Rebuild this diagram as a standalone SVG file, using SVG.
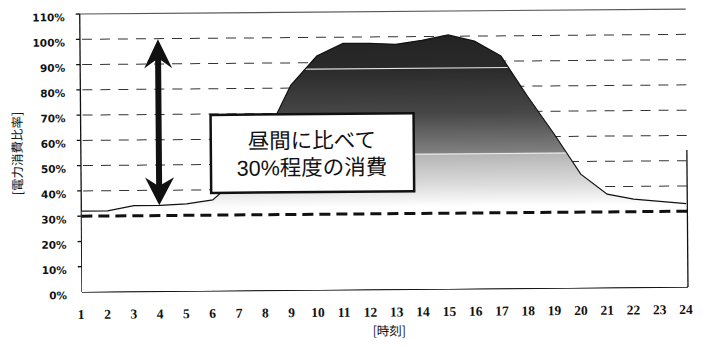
<svg xmlns="http://www.w3.org/2000/svg" width="709" height="349" viewBox="0 0 709 349">
<defs>
<style>
.grid{stroke:#333;stroke-width:1;stroke-dasharray:10 8;fill:none}
.base{stroke:#111;stroke-width:3;stroke-dasharray:11 6;fill:none}
.axis{stroke:#111;stroke-width:1.3;fill:none}
.ylab{font-family:"DejaVu Sans",sans-serif;font-weight:bold;font-size:10.5px;fill:#111;text-anchor:end}
.xlab{font-family:"Liberation Serif",serif;font-weight:bold;font-size:13.5px;fill:#111;text-anchor:middle}
.jp{font-family:"Noto Sans CJK JP",sans-serif;fill:#111}
.callout{font-family:"Liberation Sans","Noto Sans CJK JP",sans-serif;fill:#111;font-size:21.5px;text-anchor:middle}
</style>
<linearGradient id="fillg" gradientUnits="userSpaceOnUse" x1="0" y1="35" x2="0" y2="215">
<stop offset="0" stop-color="#222"/>
<stop offset="0.2" stop-color="#2a2a2a"/>
<stop offset="0.45" stop-color="#474747"/>
<stop offset="0.67" stop-color="#808080"/>
<stop offset="0.68" stop-color="#b5b5b5"/>
<stop offset="0.85" stop-color="#dcdcdc"/>
<stop offset="0.97" stop-color="#ffffff"/>
</linearGradient>
<clipPath id="areaclip">
<polygon points="82,211.1 108.3,211.1 134.6,206.1 160.9,206.1 187.2,204.8 213.5,201 239.8,178.3 266.1,140 292.4,87 318.7,58 345,45.6 371.3,45.6 397.6,46.9 423.9,43.1 450.2,38 476.5,44.4 502.8,59.5 529.1,99.9 555.4,137.9 581.7,178.3 608,198.5 634.3,203.6 660.6,206.1 686.9,208.6 686.9,292 82,292"/>
</clipPath>
</defs>
<rect width="709" height="349" fill="#fff"/>
<g transform="rotate(-0.47 82 292)">
<g id="axes">
<line x1="82" y1="14" x2="688" y2="14" stroke="#555" stroke-width="1.2"/>
<line class="axis" x1="82" y1="14" x2="82" y2="292"/>
<line class="axis" x1="82" y1="292" x2="688" y2="292"/>
<line class="axis" x1="688" y1="155" x2="688" y2="292"/>
<path class="axis" d="M78,14H82M78,39.3H82M78,64.6H82M78,89.8H82M78,115.1H82M78,140.4H82M78,165.6H82M78,190.9H82M78,216.2H82M78,241.5H82M78,266.7H82"/>
<path class="axis" d="M108.3,292v-4M134.6,292v-4M160.9,292v-4M187.2,292v-4M213.5,292v-4M239.8,292v-4M266.1,292v-4M292.4,292v-4M318.7,292v-4M345,292v-4M371.3,292v-4M397.6,292v-4M423.9,292v-4M450.2,292v-4M476.5,292v-4M502.8,292v-4M529.1,292v-4M555.4,292v-4M581.7,292v-4M608,292v-4M634.3,292v-4M660.6,292v-4"/>
</g>
<g id="gridlines">
<line class="grid" x1="84" y1="39.3" x2="688" y2="39.3"/>
<line class="grid" x1="84" y1="64.6" x2="688" y2="64.6"/>
<line class="grid" x1="84" y1="89.8" x2="688" y2="89.8"/>
<line class="grid" x1="84" y1="115.1" x2="688" y2="115.1"/>
<line class="grid" x1="84" y1="140.4" x2="688" y2="140.4"/>
<line class="grid" x1="84" y1="165.6" x2="688" y2="165.6"/>
<line class="grid" x1="84" y1="190.9" x2="688" y2="190.9"/>
</g>
<g id="area">
<rect x="82" y="30" width="606" height="262" fill="url(#fillg)" clip-path="url(#areaclip)"/>
<g clip-path="url(#areaclip)">
<line x1="82" y1="71" x2="688" y2="71" stroke="#e6e6e6" stroke-width="1.2"/>
<line x1="82" y1="157" x2="688" y2="157" stroke="#eeeeee" stroke-width="1.2"/>
</g>
<polyline fill="none" stroke="#111" stroke-width="1.2" points="82,211.1 108.3,211.1 134.6,206.1 160.9,206.1 187.2,204.8 213.5,201 239.8,178.3 266.1,140 292.4,87 318.7,58 345,45.6 371.3,45.6 397.6,46.9 423.9,43.1 450.2,38 476.5,44.4 502.8,59.5 529.1,99.9 555.4,137.9 581.7,178.3 608,198.5 634.3,203.6 660.6,206.1 686.9,208.6"/>
</g>
<g id="baseline30">
<line class="base" x1="82" y1="216.2" x2="688" y2="216.2"/>
</g>
<g id="arrow">
<polygon fill="#111" points="160,40 174,69 163,61 163,185 175,178 160,206 146,178 157,185 157,61 146,69"/>
</g>
<g id="callout">
<rect x="212" y="116" width="203" height="78" fill="#fff" stroke="#111" stroke-width="2.5"/>
<text class="callout" x="313" y="150">昼間に比べて</text>
<text class="callout" x="313" y="177">30%程度の消費</text>
</g>
<g id="ylabels">
<text class="ylab" x="67" y="21">110%</text>
<text class="ylab" x="67" y="46.3">100%</text>
<text class="ylab" x="67" y="71.6">90%</text>
<text class="ylab" x="67" y="96.8">80%</text>
<text class="ylab" x="67" y="122.1">70%</text>
<text class="ylab" x="67" y="147.4">60%</text>
<text class="ylab" x="67" y="172.6">50%</text>
<text class="ylab" x="67" y="197.9">40%</text>
<text class="ylab" x="67" y="223.2">30%</text>
<text class="ylab" x="67" y="248.5">20%</text>
<text class="ylab" x="67" y="273.7">10%</text>
<text class="ylab" x="67" y="299">0%</text>
</g>
<g id="xlabels">
<text class="xlab" x="81" y="319">1</text>
<text class="xlab" x="107.3" y="319">2</text>
<text class="xlab" x="133.6" y="319">3</text>
<text class="xlab" x="159.9" y="319">4</text>
<text class="xlab" x="186.2" y="319">5</text>
<text class="xlab" x="212.5" y="319">6</text>
<text class="xlab" x="238.8" y="319">7</text>
<text class="xlab" x="265.1" y="319">8</text>
<text class="xlab" x="291.4" y="319">9</text>
<text class="xlab" x="317.7" y="319">10</text>
<text class="xlab" x="344" y="319">11</text>
<text class="xlab" x="370.3" y="319">12</text>
<text class="xlab" x="396.6" y="319">13</text>
<text class="xlab" x="422.9" y="319">14</text>
<text class="xlab" x="449.2" y="319">15</text>
<text class="xlab" x="475.5" y="319">16</text>
<text class="xlab" x="501.8" y="319">17</text>
<text class="xlab" x="528.1" y="319">18</text>
<text class="xlab" x="554.4" y="319">19</text>
<text class="xlab" x="580.7" y="319">20</text>
<text class="xlab" x="607" y="319">21</text>
<text class="xlab" x="633.3" y="319">22</text>
<text class="xlab" x="659.6" y="319">23</text>
<text class="xlab" x="685.9" y="319">24</text>
</g>
<g id="titles">
<text class="jp" x="389" y="338" font-size="12.5" text-anchor="middle">[時刻]</text>
<text class="jp" font-size="12.5" text-anchor="middle" transform="translate(23,153) rotate(-90)">[電力消費比率]</text>
</g>
</g>
</svg>
